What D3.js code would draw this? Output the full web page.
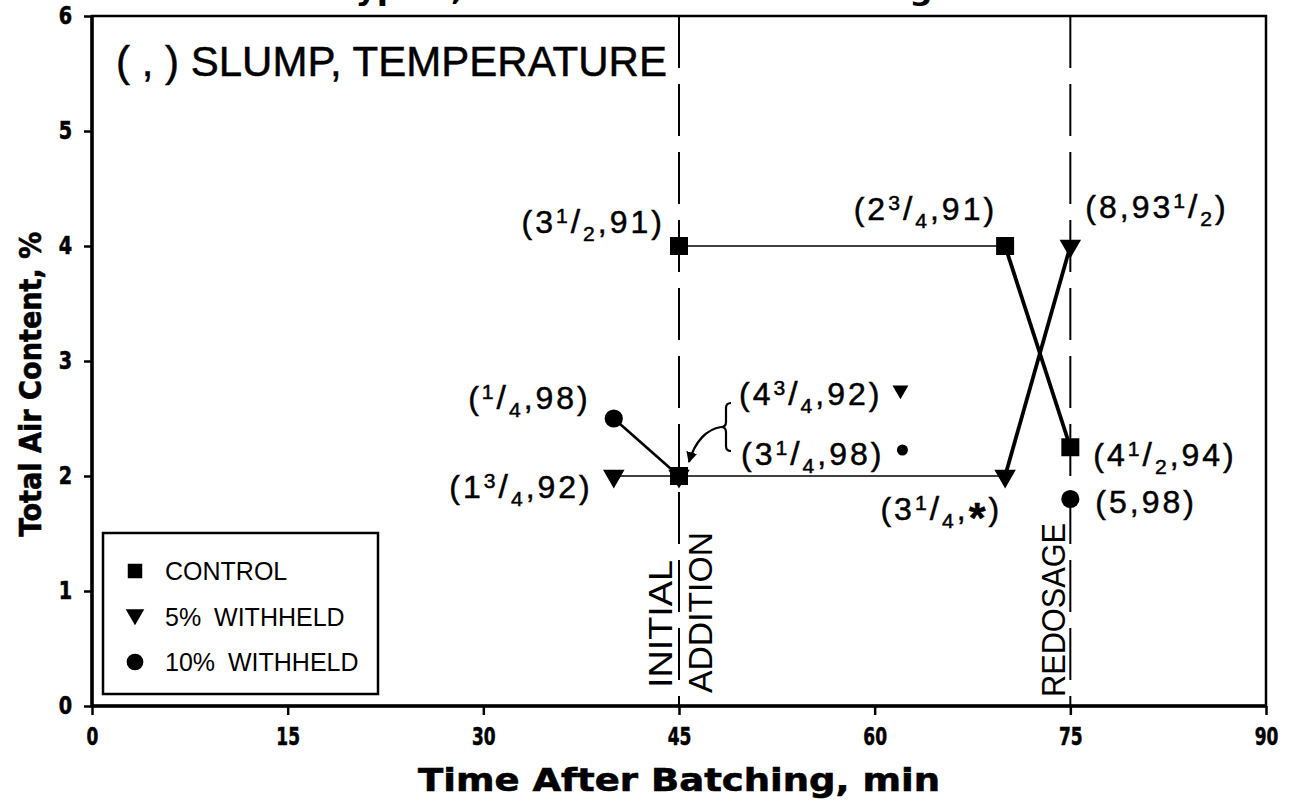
<!DOCTYPE html>
<html>
<head>
<meta charset="utf-8">
<script src="https://cdn.jsdelivr.net/npm/d3@7"></script>
<style>
  body { margin: 0; background: #fff; }
  svg { display: block; background: #fff; }
  .heavy { font-family: "DejaVu Sans", sans-serif; font-weight: bold; fill: #000; }
  .plain { font-family: "Liberation Sans", Arial, sans-serif; fill: #000; }
</style>
</head>
<body>
<svg id="chart"></svg>
<script>
const width = 1289
const height = 802

// time after batching (min) vs total air content (%), notes are (slump, temperature)
const controlTime = [45, 70, 75]
const controlAir = [4, 4, 2.25]
const controlNote = ["(3{1/2},91)", "(2{3/4},91)", "(4{1/2},94)"]

const withheld5Time = [40, 45, 70, 75]
const withheld5Air = [2, 2, 2, 4]
const withheld5Note = ["(1{3/4},92)", "(4{3/4},92)", "(3{1/4},*)", "(8,93{1/2})"]

const withheld10Time = [40, 45, 70, 75]
const withheld10Air = [2.5, 2, null, 1.8]
const withheld10Note = ["({1/4},98)", "(3{1/4},98)", null, "(5,98)"]

const eventTime = [45, 75]
const eventText = ["INITIAL", "ADDITION", "REDOSAGE"]

const xTicks = [0, 15, 30, 45, 60, 75, 90]
const yTicks = [0, 1, 2, 3, 4, 5, 6]
const legendNames = ["CONTROL", "5% WITHHELD", "10% WITHHELD"]
const headerText = "Type F, 32 minutes initial mixing time"
const boxText = "( , ) SLUMP, TEMPERATURE"

const series = [
  { key: "control", time: controlTime, air: controlAir, note: controlNote, shape: "square" },
  { key: "w5", time: withheld5Time, air: withheld5Air, note: withheld5Note, shape: "triangle" },
  { key: "w10", time: withheld10Time, air: withheld10Air, note: withheld10Note, shape: "circle" }
]

// where each note sits relative to its point: dx, dy(baseline), anchor
const noteOffset = {
  "control-0": [-14, -13, "end"],
  "control-1": [-8, -26, "end"],
  "control-2": [23, 19, "start"],
  "w5-0": [-21, 22, "end"],
  "w5-1": [60, -71, "start"],
  "w5-2": [-3, 44, "end"],
  "w5-3": [15, -28, "start"],
  "w10-0": [-23, -10, "end"],
  "w10-1": [62, -11, "start"],
  "w10-3": [25, 14, "start"]
}

const x = d3.scaleLinear().domain([0, 90]).range([92, 1266])
const y = d3.scaleLinear().domain([0, 6]).range([706, 16])

const svg = d3.select("#chart")
  .attr("width", width)
  .attr("height", height)
  .attr("viewBox", [0, 0, width, height])

// arrow head for the bracket note
svg.append("defs").append("marker")
  .attr("id", "arrow")
  .attr("viewBox", "0 0 10 10")
  .attr("refX", 9).attr("refY", 5)
  .attr("markerWidth", 5).attr("markerHeight", 5)
  .attr("orient", "auto")
  .append("path")
  .attr("d", "M0,0 L10,5 L0,10 z")
  .attr("fill", "#000")

function symbolPath(shape, size) {
  if (shape == "square") return d3.symbol(d3.symbolSquare, size)()
  if (shape == "circle") return d3.symbol(d3.symbolCircle, size)()
  return d3.symbol(d3.symbolTriangle, size)()
}
function symbolRotate(shape) {
  return shape == "triangle" ? " rotate(180)" : ""
}

// squeeze heavy text so it looks condensed like the original lettering
function condense(sel, k) {
  sel.each(function () {
    const l = this.getComputedTextLength()
    d3.select(this).attr("textLength", l * k).attr("lengthAdjust", "spacingAndGlyphs")
  })
}

// text with stacked fractions written as {n/d}
function writeNote(sel, str, size) {
  const small = size * 0.66
  let shift = 0
  const parts = str.split(/(\{\d\/\d\}|\*)/).filter(s => s.length)
  parts.forEach(p => {
    const m = p.match(/\{(\d)\/(\d)\}/)
    if (m) {
      sel.append("tspan").attr("font-size", small).attr("dy", -10 - shift).text(m[1])
      sel.append("tspan").attr("font-size", size * 1.05).attr("dy", 10).text("/")
      sel.append("tspan").attr("font-size", small).attr("dy", 8).text(m[2])
      shift = 8
    } else if (p == "*") {
      // the asterisk is drawn big and centred on the line
      sel.append("tspan").attr("font-size", size * 1.35).attr("font-weight", "bold").attr("dy", 12 - shift).text(p)
      shift = 12
    } else {
      sel.append("tspan").attr("font-size", size).attr("dy", -shift).text(p)
      shift = 0
    }
  })
}

// header of the page, mostly cut away at the top edge
svg.append("text")
  .attr("class", "heavy")
  .attr("x", 682)
  .attr("y", 0)
  .attr("text-anchor", "middle")
  .attr("font-size", 30)
  .attr("textLength", 690)
  .attr("lengthAdjust", "spacingAndGlyphs")
  .text(headerText)

// axes
const gx = svg.append("g")
  .attr("transform", "translate(0," + y(0) + ")")
  .call(d3.axisBottom(x).tickValues(xTicks).tickSize(9).tickSizeOuter(0).tickPadding(12))
gx.select(".domain").remove()
gx.selectAll(".tick line").attr("stroke", "#000").attr("stroke-width", 2.5)
gx.selectAll(".tick text")
  .attr("class", "heavy")
  .attr("font-size", 25)
  .attr("font-family", null)
  .attr("stroke", "#000")
  .attr("stroke-width", 0.6)
  .call(condense, 0.68)

const gy = svg.append("g")
  .attr("transform", "translate(" + x(0) + ",0)")
  .call(d3.axisLeft(y).tickValues(yTicks).tickFormat(d3.format("d")).tickSize(8).tickSizeOuter(0).tickPadding(12))
gy.select(".domain").remove()
gy.selectAll(".tick line").attr("stroke", "#000").attr("stroke-width", 2.5)
gy.selectAll(".tick text")
  .attr("class", "heavy")
  .attr("font-size", 24)
  .attr("font-family", null)
  .attr("stroke", "#000")
  .attr("stroke-width", 0.6)
  .call(condense, 0.8)

// frame
svg.append("rect")
  .attr("x", x(0)).attr("y", y(6))
  .attr("width", x(90) - x(0)).attr("height", y(0) - y(6))
  .attr("fill", "none")
  .attr("stroke", "#000")
  .attr("stroke-width", 2.5)
svg.append("path")
  .attr("d", d3.line()([[x(0), y(6)], [x(0), y(0)], [x(90), y(0)]]))
  .attr("fill", "none")
  .attr("stroke", "#000")
  .attr("stroke-width", 3.5)

svg.append("text")
  .attr("class", "heavy")
  .attr("x", (x(0) + x(90)) / 2)
  .attr("y", 791)
  .attr("text-anchor", "middle")
  .attr("font-size", 32)
  .attr("stroke", "#000")
  .attr("stroke-width", 0.6)
  .attr("textLength", 522)
  .attr("lengthAdjust", "spacingAndGlyphs")
  .text("Time After Batching, min")

svg.append("text")
  .attr("class", "heavy")
  .attr("transform", "translate(41," + y(2.8) + ") rotate(-90)")
  .attr("text-anchor", "middle")
  .attr("font-size", 30)
  .attr("stroke", "#000")
  .attr("stroke-width", 0.6)
  .attr("textLength", 305)
  .attr("lengthAdjust", "spacingAndGlyphs")
  .text("Total Air Content, %")

// event lines
svg.selectAll(".event")
  .data(eventTime)
  .enter()
  .append("line")
  .attr("class", "event")
  .attr("x1", d => x(d)).attr("x2", d => x(d))
  .attr("y1", y(6)).attr("y2", y(0))
  .attr("stroke", "#000")
  .attr("stroke-width", 2)
  .attr("stroke-dasharray", "52,16")

const eventPlace = [
  { t: eventTime[0], dx: -7, dy: -18, len: 128 },
  { t: eventTime[0], dx: 33, dy: -13, len: 161 },
  { t: eventTime[1], dx: -5, dy: -9, len: 174 }
]
svg.selectAll(".eventText")
  .data(eventText)
  .enter()
  .append("text")
  .attr("class", "plain eventText")
  .attr("transform", (d, i) => "translate(" + (x(eventPlace[i].t) + eventPlace[i].dx) + "," + (y(0) + eventPlace[i].dy) + ") rotate(-90)")
  .attr("font-size", 33)
  .attr("textLength", (d, i) => eventPlace[i].len)
  .attr("lengthAdjust", "spacingAndGlyphs")
  .text(d => d)

// lines between readings
series.forEach(s => {
  const pts = s.time.map((t, i) => [t, s.air[i]])
  for (let i = 1; i < pts.length; i++) {
    const a = pts[i - 1], b = pts[i]
    if (a[1] == null || b[1] == null) continue
    let w = 1.7
    if (b[0] == eventTime[1]) w = 3.8
    else if (a[1] != b[1]) w = 2.6
    svg.append("line")
      .attr("x1", x(a[0])).attr("y1", y(a[1]))
      .attr("x2", x(b[0])).attr("y2", y(b[1]))
      .attr("stroke", "#000")
      .attr("stroke-width", w)
  }
})

// markers
series.forEach(s => {
  const pts = s.time.map((t, i) => ({ t: t, a: s.air[i] })).filter(d => d.a != null)
  svg.append("g").selectAll("path")
    .data(pts)
    .enter()
    .append("path")
    .attr("transform", d => "translate(" + x(d.t) + "," + y(d.a) + ")" + symbolRotate(s.shape))
    .attr("d", symbolPath(s.shape, s.shape == "square" ? 324 : s.shape == "circle" ? 260 : 200))
    .attr("fill", "#000")
})

// 5% and 10% readings that fall on one spot are shown with a square
const shared = withheld5Time
  .map((t, i) => ({ t: t, a: withheld5Air[i] }))
  .filter(d => withheld10Time.some((t, j) => t == d.t && withheld10Air[j] == d.a))
svg.append("g").selectAll("path")
  .data(shared)
  .enter()
  .append("path")
  .attr("transform", d => "translate(" + x(d.t) + "," + y(d.a) + ")")
  .attr("d", symbolPath("square", 324))
  .attr("fill", "#000")

// notes
series.forEach(s => {
  s.note.forEach((n, i) => {
    if (!n) return
    const off = noteOffset[s.key + "-" + i]
    const px = x(s.time[i]) + off[0]
    const py = y(s.air[i]) + off[1]
    const t = svg.append("text")
      .attr("class", "plain")
      .attr("x", px)
      .attr("y", py)
      .attr("text-anchor", off[2])
      .attr("letter-spacing", 3)
      .attr("stroke", "#000")
      .attr("stroke-width", 0.5)
    writeNote(t, n, 32)
    const isShared = shared.some(d => d.t == s.time[i] && d.a == s.air[i])
    if (isShared) {
      const end = px + t.node().getComputedTextLength()
      svg.append("path")
        .attr("transform", "translate(" + (end + 18) + "," + (py - 15) + ")" + symbolRotate(s.shape))
        .attr("d", symbolPath(s.shape, s.shape == "circle" ? 95 : 110))
        .attr("fill", "#000")
    }
  })
})

// bracket and arrow pointing at the shared reading
shared.forEach(d => {
  const g = svg.append("g").attr("transform", "translate(" + x(d.t) + "," + y(d.a) + ")")
  g.append("path")
    .attr("d", "M52,-73 q-5,0 -5,5 v14 q0,5 -5,5 q5,0 5,5 v14 q0,5 5,5")
    .attr("fill", "none")
    .attr("stroke", "#000")
    .attr("stroke-width", 2.2)
  g.append("path")
    .attr("d", "M42,-49 C28,-47 16,-35 10,-14")
    .attr("fill", "none")
    .attr("stroke", "#000")
    .attr("stroke-width", 2.2)
    .attr("marker-end", "url(#arrow)")
})

// note key in the upper left
svg.append("text")
  .attr("class", "plain")
  .attr("x", 116)
  .attr("y", 76)
  .attr("font-size", 42)
  .attr("stroke", "#000")
  .attr("stroke-width", 0.5)
  .attr("textLength", 551)
  .attr("lengthAdjust", "spacingAndGlyphs")
  .text(boxText)

// legend
const legend = svg.append("g").attr("id", "legend")
legend.append("rect")
  .attr("x", 103).attr("y", 533)
  .attr("width", 275).attr("height", 161)
  .attr("fill", "#fff")
  .attr("stroke", "#000")
  .attr("stroke-width", 2.5)

const legendItem = legend.selectAll(".legenditem")
  .data(series)
  .enter()
  .append("g")
  .attr("class", "legenditem")
  .attr("transform", (d, i) => "translate(135," + (571 + i * 45.5) + ")")

legendItem.append("path")
  .attr("transform", d => d.shape == "triangle" ? "translate(0,-2)" + symbolRotate(d.shape) : null)
  .attr("d", d => symbolPath(d.shape, d.shape == "square" ? 210 : d.shape == "circle" ? 220 : 150))
  .attr("fill", "#000")

legendItem.append("text")
  .attr("class", "plain")
  .attr("x", 30)
  .attr("y", 9)
  .attr("font-size", 25)
  .attr("word-spacing", 6)
  .text((d, i) => legendNames[i])
</script>
</body>
</html>
